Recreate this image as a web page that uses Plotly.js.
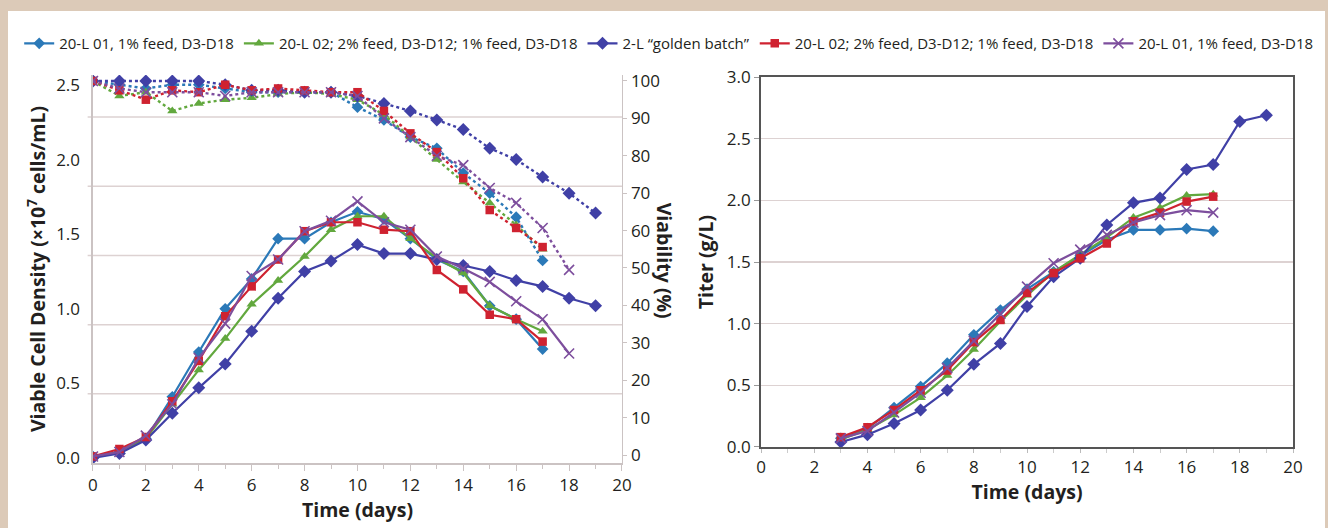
<!DOCTYPE html>
<html>
<head>
<meta charset="utf-8">
<script src="https://cdn.plot.ly/plotly-3.0.1.min.js"></script>
<style>
  html, body { margin: 0; padding: 0; background: #dccab8; width: 1328px; height: 528px; overflow: hidden; }
  #chart { position: absolute; left: 8px; top: 11px; width: 1317px; height: 517px; background: #ffffff; }
</style>
</head>
<body>
<div id="chart"></div>
<script>
// ---------- Data ----------
const seriesNames = [
  "20-L 01, 1% feed, D3-D18",
  "20-L 02; 2% feed, D3-D12; 1% feed, D3-D18",
  "2-L \u201cgolden batch\u201d",
  "20-L 02; 2% feed, D3-D12; 1% feed, D3-D18",
  "20-L 01, 1% feed, D3-D18"
];

const vcdDays17 = [0,1,2,3,4,5,6,7,8,9,10,11,12,13,14,15,16,17];
const vcdDays18 = [0,1,2,3,4,5,6,7,8,9,10,11,12,13,14,15,16,17,18];
const vcdDays19 = [0,1,2,3,4,5,6,7,8,9,10,11,12,13,14,15,16,17,18,19];

// Viable cell density (x10^7 cells/mL)
const vcdBlue   = [0.01,0.04,0.13,0.41,0.71,1.00,1.20,1.47,1.47,1.58,1.65,1.60,1.47,1.33,1.25,1.02,0.93,0.73];
const vcdGreen  = [0.01,0.04,0.13,0.36,0.59,0.80,1.03,1.19,1.35,1.53,1.62,1.62,1.47,1.34,1.24,1.02,0.93,0.85];
const vcdGolden = [0.00,0.03,0.12,0.30,0.47,0.63,0.85,1.07,1.25,1.32,1.43,1.37,1.37,1.33,1.29,1.25,1.19,1.15,1.07,1.02];
const vcdRed    = [0.01,0.06,0.14,0.38,0.65,0.95,1.15,1.33,1.52,1.58,1.58,1.53,1.52,1.26,1.13,0.96,0.93,0.78];
const vcdPurple = [0.01,0.04,0.15,0.36,0.67,0.90,1.22,1.33,1.52,1.59,1.72,1.58,1.53,1.35,1.27,1.18,1.05,0.93,0.70];

// Viability (%)
const viaBlue   = [100,99,98,99,99,98,97,97,97,97,93,89.6,85,82,75.4,70,63.6,52];
const viaGreen  = [100,96,97,92,94,95,95.5,96.5,97,96.5,95,91,85,79,73,67.4,61.5,55];
const viaGolden = [100,100,100,100,100,99,97.5,97.5,97,97,96,94,92,89.6,87,82,79,74.3,70,64.7];
const viaRed    = [100,97.5,95,97.5,97,99,97.5,98,97.5,97,97,92,86,81,74,65.5,60.7,55.6];
const viaPurple = [100,98,97,97,97,96,97,97,97,97,96,90,85,80,77.5,71.4,67.4,60.7,49.5];

// Titer (g/L)
const titerDays17 = [3,4,5,6,7,8,9,10,11,12,13,14,15,16,17];
const titerDays19 = [3,4,5,6,7,8,9,10,11,12,13,14,15,16,17,18,19];
const titerBlue   = [0.07,0.15,0.32,0.49,0.68,0.91,1.11,1.28,1.42,1.55,1.68,1.76,1.76,1.77,1.75];
const titerGreen  = [0.06,0.14,0.26,0.40,0.58,0.79,1.02,1.23,1.42,1.56,1.70,1.86,1.94,2.04,2.05];
const titerGolden = [0.04,0.10,0.19,0.30,0.46,0.67,0.84,1.14,1.38,1.53,1.80,1.98,2.02,2.25,2.29,2.64,2.69];
const titerRed    = [0.08,0.16,0.30,0.46,0.62,0.85,1.03,1.25,1.41,1.53,1.65,1.83,1.90,1.99,2.03];
const titerPurple = [0.07,0.13,0.28,0.44,0.64,0.86,1.08,1.30,1.49,1.60,1.72,1.82,1.88,1.92,1.90];

const vcdTicks = [0, 0.5, 1.0, 1.5, 2.0, 2.5];
const viaTicks = [0,10,20,30,40,50,60,70,80,90,100];
const titerTicks = [0, 0.5, 1.0, 1.5, 2.0, 2.5, 3.0];
const dayTicks = [0,2,4,6,8,10,12,14,16,18,20];

// ---------- Styles ----------
const colors = ["#2b79b8", "#62a83e", "#4040a6", "#cf2230", "#7d4e9d"];
const markers = [
  {symbol: "diamond", size: 9},
  {symbol: "triangle-up", size: 9},
  {symbol: "diamond", size: 10},
  {symbol: "square", size: 8.5},
  {symbol: "x-thin", size: 10}
];

const vcdX = [vcdDays17, vcdDays17, vcdDays19, vcdDays17, vcdDays18];
const vcdY = [vcdBlue, vcdGreen, vcdGolden, vcdRed, vcdPurple];
const viaY = [viaBlue, viaGreen, viaGolden, viaRed, viaPurple];
const titerX = [titerDays17, titerDays17, titerDays19, titerDays17, titerDays17];
const titerY = [titerBlue, titerGreen, titerGolden, titerRed, titerPurple];

function mk(i) {
  const m = {symbol: markers[i].symbol, size: markers[i].size, color: colors[i]};
  if (markers[i].symbol === "x-thin") m.line = {width: 1.6, color: colors[i]};
  return m;
}

const traces = [];
// viability (dotted, right axis)
for (let i = 0; i < 5; i++) {
  traces.push({
    x: vcdX[i], y: viaY[i], xaxis: "x", yaxis: "y2",
    type: "scatter", mode: "lines+markers",
    line: {color: colors[i], width: 2.4, dash: "dot"},
    marker: mk(i), showlegend: false, hoverinfo: "skip"
  });
}
// VCD (solid, left axis)
for (let i = 0; i < 5; i++) {
  traces.push({
    x: vcdX[i], y: vcdY[i], xaxis: "x", yaxis: "y",
    type: "scatter", mode: "lines+markers", name: seriesNames[i],
    line: {color: colors[i], width: 2.2},
    marker: mk(i), showlegend: true
  });
}
// Titer
for (let i = 0; i < 5; i++) {
  traces.push({
    x: titerX[i], y: titerY[i], xaxis: "x2", yaxis: "y4",
    type: "scatter", mode: "lines+markers",
    line: {color: colors[i], width: 2.2},
    marker: mk(i), showlegend: false
  });
}

const txt = "#231f20";
const fam = "Open Sans, Noto Sans, sans-serif";
const lightLine = "#cbc3c3";
const gridCol = "#ddd2d2";

// left panel: VCD range; its gridlines follow their own even spacing (5 lines)
const vcdRange = [-0.034, 2.567];
const leftGridStep = 0.4638;
const leftGridShapes = [1, 2, 3, 4, 5].map(k => ({
  type: "line", xref: "x domain", yref: "y", layer: "below",
  x0: -0.01, x1: 1, y0: vcdRange[0] + k * leftGridStep, y1: vcdRange[0] + k * leftGridStep,
  line: {color: gridCol, width: 1.5}
}));

const layout = {
  width: 1317, height: 517,
  margin: {l: 0, r: 0, t: 0, b: 0},
  paper_bgcolor: "#ffffff", plot_bgcolor: "rgba(0,0,0,0)",
  font: {family: fam, size: 17, color: txt},
  showlegend: true,
  legend: {
    orientation: "h", x: 0.0085, xanchor: "left", y: 0.937, yanchor: "middle",
    font: {family: fam, size: 15, color: txt}, bgcolor: "rgba(0,0,0,0)",
    itemwidth: 30, traceorder: "normal"
  },
  xaxis: {
    domain: [0.0645, 0.4662], anchor: "y", range: [0, 20],
    tickvals: dayTicks, ticks: "outside", ticklen: 6, tickcolor: lightLine,
    minor: {dtick: 1, ticks: "outside", ticklen: 4, tickcolor: lightLine},
    showline: true, linecolor: lightLine, linewidth: 1.5,
    showgrid: false, zeroline: false,
    tickfont: {size: 17},
    title: {text: "<b>Time (days)</b>", font: {size: 19.5}, standoff: 4}
  },
  yaxis: {
    domain: [0.1257, 0.8762], anchor: "x", range: vcdRange,
    tickvals: vcdTicks, tickformat: ".1f", ticks: "", ticklabelstandoff: 8,
    showline: true, linecolor: lightLine, linewidth: 1.5,
    showgrid: false, zeroline: false, tickfont: {size: 17},
    title: {text: "<b>Viable Cell Density (\u00d710<sup>7</sup> cells/mL)</b>", font: {size: 19.5}, standoff: 5}
  },
  yaxis2: {
    overlaying: "y", side: "right", anchor: "x", range: [-2.14, 101.6],
    tickvals: viaTicks, ticks: "outside", ticklen: 4, tickcolor: lightLine,
    showline: true, linecolor: lightLine, linewidth: 1.5,
    showgrid: false, zeroline: false, tickfont: {size: 17}
  },
  xaxis2: {
    domain: [0.5718, 0.9757], anchor: "y4", range: [0, 20],
    tickvals: dayTicks, ticks: "outside", ticklen: 4, tickcolor: "#bbbbbb",
    minor: {dtick: 1, ticks: "outside", ticklen: 4, tickcolor: "#cccccc"},
    showline: true, linecolor: "#555555", linewidth: 2, mirror: true,
    showgrid: false, zeroline: false, tickfont: {size: 17},
    title: {text: "<b>Time (days)</b>", font: {size: 19.5}, standoff: 8}
  },
  yaxis4: {
    domain: [0.1567, 0.8723], anchor: "x2", range: [0, 3],
    tickvals: titerTicks, tickformat: ".1f", ticks: "outside", ticklen: 5, tickcolor: "#999999",
    showline: true, linecolor: "#555555", linewidth: 2, mirror: true,
    showgrid: true, gridcolor: gridCol, gridwidth: 1.5, zeroline: false, tickfont: {size: 17},
    title: {text: "<b>Titer (g/L)</b>", font: {size: 19.5}, standoff: 8}
  },
  shapes: leftGridShapes,
  annotations: [{
    text: "<b>Viability (%)</b>", xref: "paper", yref: "paper",
    x: 0.4985, y: 0.518, textangle: 90, showarrow: false,
    font: {family: fam, size: 19.5, color: txt}
  }]
};

Plotly.newPlot("chart", traces, layout, {displayModeBar: false, staticPlot: true});
</script>
</body>
</html>
